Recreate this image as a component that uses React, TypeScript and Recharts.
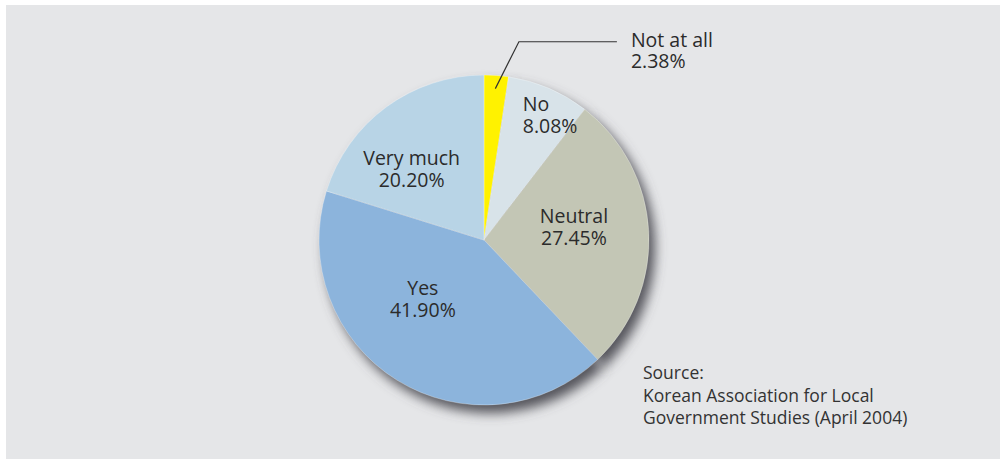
import { PieChart, Pie, Cell } from 'recharts';

// survey answers, clockwise from 12 o'clock
const answers = ['Not at all', 'No', 'Neutral', 'Yes', 'Very much'];
const shares = [2.38, 8.08, 27.45, 41.9, 20.2];
const shareLabels = ['2.38%', '8.08%', '27.45%', '41.90%', '20.20%'];
const sliceColors = ['#fff200', '#d8e3e9', '#c3c6b5', '#8cb4dc', '#b8d4e6'];

const sourceLines = [
  'Source:',
  'Korean Association for Local',
  'Government Studies (April 2004)',
];

const data = answers.map((name, i) => ({ name, value: shares[i], label: shareLabels[i] }));

const RAD = Math.PI / 180;
const FONT = '"Open Sans", "DejaVu Sans", sans-serif';
const TEXT = '#2b2b2b';

// where each inside label sits: fraction of radius + angle nudge (deg), text anchor
const placement = [
  null,
  { r: 0.79, shift: 5.8, anchor: 'start' },
  { r: 0.55, shift: 4.7, anchor: 'middle' },
  { r: 0.52, shift: -13.6, anchor: 'middle' },
  { r: 0.61, shift: 9.6, anchor: 'middle' },
];

const polar = (cx: number, cy: number, r: number, deg: number) => ({
  x: cx + r * Math.cos(deg * RAD),
  y: cy - r * Math.sin(deg * RAD),
});

const renderLabel = (props: any) => {
  const { cx, cy, midAngle, outerRadius, index, payload } = props;
  const name = payload?.name ?? answers[index];
  const value = payload?.label ?? shareLabels[index];

  if (index === 0) {
    // small slice: leader line out to the right
    const a = polar(cx, cy, outerRadius * 0.92, midAngle);
    const b = polar(cx, cy, outerRadius * 1.22, midAngle - 5.7);
    const c = { x: b.x + 98, y: b.y };
    return (
      <g>
        <polyline
          points={`${a.x},${a.y} ${b.x},${b.y} ${c.x},${c.y}`}
          fill="none"
          stroke="#333"
          strokeWidth={1.2}
        />
        <text fontFamily={FONT} fontSize={19.5} fill={TEXT}>
          <tspan x={c.x + 14} y={b.y + 5}>{name}</tspan>
          <tspan x={c.x + 14} y={b.y + 26}>{value}</tspan>
        </text>
      </g>
    );
  }

  const p = placement[index]!;
  const pos = polar(cx, cy, outerRadius * p.r, midAngle + p.shift);
  return (
    <text textAnchor={p.anchor as any} fontFamily={FONT} fontSize={19.5} fill={TEXT}>
      <tspan x={pos.x} y={pos.y - 5}>{name}</tspan>
      <tspan x={pos.x} y={pos.y + 17}>{value}</tspan>
    </text>
  );
};

export default function App() {
  return (
    <div
      style={{
        position: 'absolute',
        left: 0,
        top: 0,
        width: 1000,
        height: 461,
        background: '#ffffff',
        overflow: 'hidden',
      }}
    >
      <svg width={0} height={0} style={{ position: 'absolute' }}>
        <defs>
          <filter id="pieShadow" x="-30%" y="-30%" width="160%" height="160%">
            <feGaussianBlur stdDeviation="6" />
          </filter>
        </defs>
      </svg>
      <div
        style={{
          position: 'absolute',
          left: 6,
          top: 5,
          width: 994,
          height: 454,
          background: '#e5e6e8',
        }}
      />
      <div style={{ position: 'absolute', left: 0, top: 0 }}>
        <PieChart width={1000} height={461} margin={{ top: 0, right: 0, bottom: 0, left: 0 }}>
          {/* soft drop shadow under the pie */}
          <Pie
            data={data}
            dataKey="value"
            cx={490}
            cy={248}
            outerRadius={165}
            startAngle={90}
            endAngle={-270}
            stroke="none"
            fill="#55555c"
            isAnimationActive={false}
            label={false}
            labelLine={false}
          >
            {data.map((d) => (
              <Cell key={d.name} fill="#55555c" stroke="none" filter="url(#pieShadow)" />
            ))}
          </Pie>
          <Pie
            data={data}
            dataKey="value"
            cx={484}
            cy={240}
            outerRadius={165}
            startAngle={90}
            endAngle={-270}
            stroke="#ffffff"
            strokeWidth={0.3}
            isAnimationActive={false}
            label={renderLabel}
            labelLine={false}
          >
            {data.map((d, i) => (
              <Cell key={d.name} fill={sliceColors[i]} />
            ))}
          </Pie>
        </PieChart>
      </div>
      <div
        style={{
          position: 'absolute',
          left: 643,
          top: 361,
          fontFamily: FONT,
          fontSize: 17.5,
          lineHeight: '22.5px',
          color: '#333',
          whiteSpace: 'nowrap',
        }}
      >
        {sourceLines.map((l) => (
          <div key={l}>{l}</div>
        ))}
      </div>
    </div>
  );
}
